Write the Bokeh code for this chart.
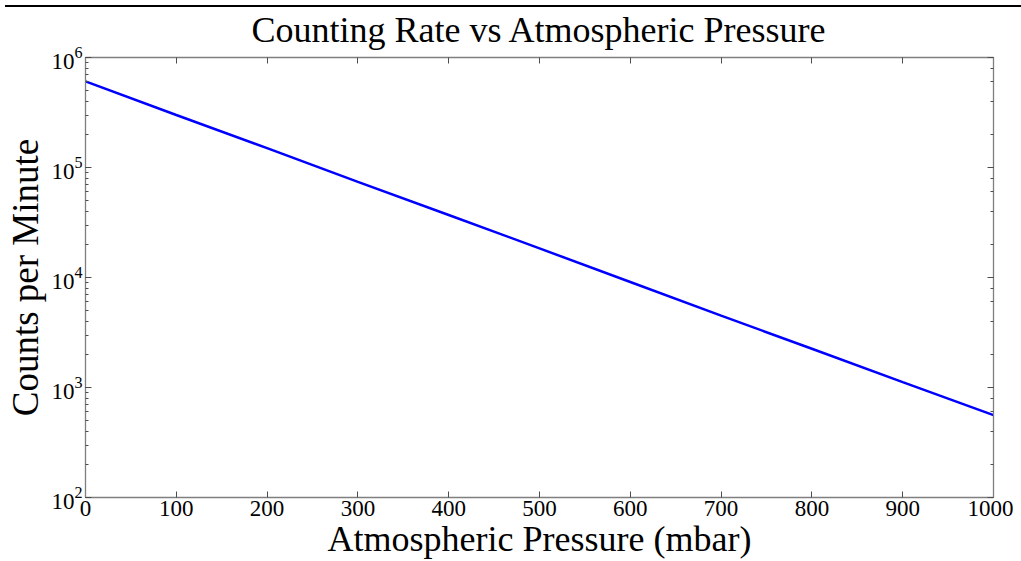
from bokeh.plotting import figure
from bokeh.models import Range1d, LinearAxis, LogAxis, Div, FixedTicker
from bokeh.layouts import column
from bokeh.embed import file_html
from bokeh.resources import INLINE

# Data
pressure_mbar = [0, 100, 200, 300, 400, 500, 600, 700, 800, 900, 1000]
counts_per_min = [6.07e5, 3.0e5, 1.50e5, 7.4e4, 3.7e4, 1.84e4, 9.1e3, 4.5e3, 2.25e3, 1.12e3, 5.6e2]
x_ticks = [0, 100, 200, 300, 400, 500, 600, 700, 800, 900, 1000]

FONT = "Liberation Serif"
AX = "#7f7f7f"
TK = "#4d4d4d"

p = figure(width=1013, height=561, output_backend="svg", toolbar_location=None,
           y_axis_type="log", x_range=Range1d(0, 1000), y_range=Range1d(1e2, 1e6),
           title="Counting Rate vs Atmospheric Pressure",
           min_border_left=85, min_border_right=20, min_border_top=55, min_border_bottom=64)

p.line(pressure_mbar, counts_per_min, line_color="#0000ff", line_width=2.5)

p.grid.visible = False
p.outline_line_color = None
p.background_fill_color = "white"
p.border_fill_color = "white"

p.title.align = "center"
p.title.text_font = FONT
p.title.text_font_style = "normal"
p.title.text_font_size = "36px"
p.title.text_color = "black"
p.title.standoff = 15

def style(ax, labels=True):
    ax.axis_line_color = AX
    ax.axis_line_width = 1.3
    ax.major_tick_line_color = TK
    ax.minor_tick_line_color = TK
    ax.major_tick_in = 6
    ax.major_tick_out = 0
    ax.minor_tick_in = 3
    ax.minor_tick_out = 0
    ax.major_label_text_font = FONT
    ax.major_label_text_font_size = "23px"
    ax.major_label_text_color = "black"
    ax.axis_label_text_font = FONT
    ax.axis_label_text_font_style = "normal"
    ax.axis_label_text_font_size = "36px"
    ax.axis_label_text_color = "black"
    if not labels:
        ax.major_label_text_font_size = "0px"
        ax.major_label_text_alpha = 0

xa = p.xaxis[0]
style(xa)
xa.ticker = FixedTicker(ticks=x_ticks)
xa.axis_label = "Atmospheric Pressure (mbar)"
xa.major_label_standoff = 3
xa.axis_label_standoff = 0

ya = p.yaxis[0]
style(ya)
ya.axis_label = "Counts per Minute"
ya.axis_label_text_font_size = "37px"
ya.major_label_standoff = 3
ya.axis_label_standoff = 2

top = LinearAxis(ticker=FixedTicker(ticks=x_ticks))
style(top, labels=False)
top.minor_tick_in = 0
p.add_layout(top, "above")

right = LogAxis()
style(right, labels=False)
p.add_layout(right, "right")

bar = Div(text="", width=0, height=0,
          styles={"position": "fixed", "top": "0px", "left": "0px", "width": "1021px",
                  "height": "2px", "background-color": "black", "z-index": "10"})

layout = column(bar, p)
open("out.html", "w").write(file_html(layout, INLINE))
